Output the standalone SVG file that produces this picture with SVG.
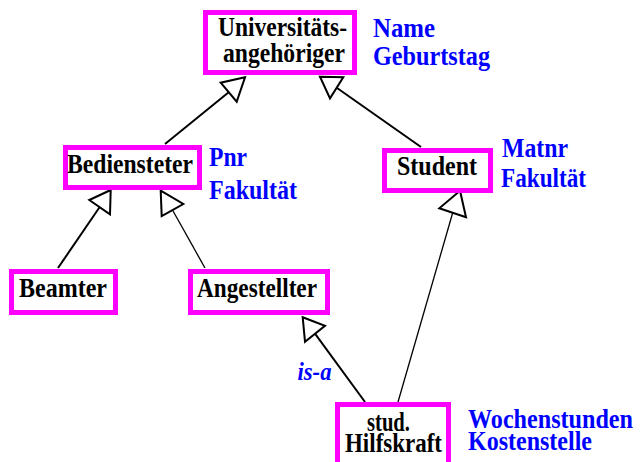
<svg xmlns="http://www.w3.org/2000/svg" width="642" height="462" viewBox="0 0 642 462">
  <style>
    .box { fill: #ffffff; stroke: #ff00ff; stroke-width: 5; }
    .name { font-family: "Liberation Serif", "Times New Roman", serif; font-weight: bold; font-size: 28px; fill: #000000; }
    .attr { font-family: "Liberation Serif", "Times New Roman", serif; font-weight: bold; font-size: 27px; fill: #0000ff; }
    .rel { font-family: "Liberation Serif", "Times New Roman", serif; font-weight: bold; font-style: italic; font-size: 26px; fill: #0000ff; }
    .edge { stroke: #000000; stroke-width: 2; fill: none; }
    .edge.thin { stroke-width: 1.3; }
    .head { fill: #ffffff; stroke: #000000; stroke-width: 2; stroke-linejoin: miter; }
  </style>
  <rect width="642" height="462" fill="#ffffff"/>

  <!-- generalization connectors with hollow triangle heads -->
  <g id="connectors">
    <line class="edge" x1="165" y1="144" x2="228.7" y2="92.2"/>
    <polygon class="head" points="245,77.3 220.7,82.7 236.7,101.7"/>

    <line class="edge" x1="421" y1="147" x2="336.7" y2="87.7"/>
    <polygon class="head" points="320,76.7 343.3,77.3 330,98.3"/>

    <line class="edge" x1="58" y1="268" x2="99.7" y2="207"/>
    <polygon class="head" points="110.7,190 89.3,200 110,214.3"/>

    <line class="edge thin" x1="205" y1="268" x2="172.5" y2="210"/>
    <polygon class="head" points="160.7,190.7 183.3,204 161.7,216"/>

    <line class="edge" x1="365" y1="402" x2="315" y2="333.7"/>
    <polygon class="head" points="302.7,317.3 325,325.7 305,341.7"/>

    <line class="edge thin" x1="398" y1="402" x2="452.7" y2="212.8"/>
    <polygon class="head" points="460,190.7 439.3,208.3 466,217.3"/>

    <text class="rel" x="297.5" y="380" textLength="34" lengthAdjust="spacingAndGlyphs">is-a</text>
  </g>

  <g id="universitaetsangehoeriger">
    <rect class="box" x="205.5" y="12.5" width="149" height="60"/>
    <text class="name" x="218" y="36" textLength="129" lengthAdjust="spacingAndGlyphs">Universitäts-</text>
    <text class="name" x="223" y="62" textLength="122" lengthAdjust="spacingAndGlyphs">angehöriger</text>
    <text class="attr" x="373" y="37" textLength="62" lengthAdjust="spacingAndGlyphs">Name</text>
    <text class="attr" x="373" y="65" textLength="117" lengthAdjust="spacingAndGlyphs">Geburtstag</text>
  </g>

  <g id="bediensteter">
    <rect class="box" x="65.5" y="147.5" width="134" height="40"/>
    <text class="name" x="67" y="172.5" textLength="126" lengthAdjust="spacingAndGlyphs">Bediensteter</text>
    <text class="attr" x="209" y="166" textLength="38" lengthAdjust="spacingAndGlyphs">Pnr</text>
    <text class="attr" x="209" y="199" textLength="88" lengthAdjust="spacingAndGlyphs">Fakultät</text>
  </g>

  <g id="student">
    <rect class="box" x="384.5" y="150.5" width="106" height="40"/>
    <text class="name" x="397" y="175" textLength="80" lengthAdjust="spacingAndGlyphs">Student</text>
    <text class="attr" x="502" y="157" textLength="66" lengthAdjust="spacingAndGlyphs">Matnr</text>
    <text class="attr" x="501" y="187" textLength="85" lengthAdjust="spacingAndGlyphs">Fakultät</text>
  </g>

  <g id="beamter">
    <rect class="box" x="11.5" y="271.5" width="104" height="41"/>
    <text class="name" x="19" y="296.5" textLength="88" lengthAdjust="spacingAndGlyphs">Beamter</text>
  </g>

  <g id="angestellter">
    <rect class="box" x="190.5" y="271.5" width="137" height="41"/>
    <text class="name" x="197" y="296.5" textLength="120" lengthAdjust="spacingAndGlyphs">Angestellter</text>
  </g>

  <g id="stud-hilfskraft">
    <rect class="box" x="337.5" y="404.5" width="111" height="64"/>
    <text class="name" x="367" y="431" textLength="43" lengthAdjust="spacingAndGlyphs">stud.</text>
    <text class="name" x="345" y="452" textLength="97" lengthAdjust="spacingAndGlyphs">Hilfskraft</text>
    <text class="attr" x="468" y="428" textLength="165" lengthAdjust="spacingAndGlyphs">Wochenstunden</text>
    <text class="attr" x="468" y="450" textLength="124" lengthAdjust="spacingAndGlyphs">Kostenstelle</text>
  </g>
</svg>
